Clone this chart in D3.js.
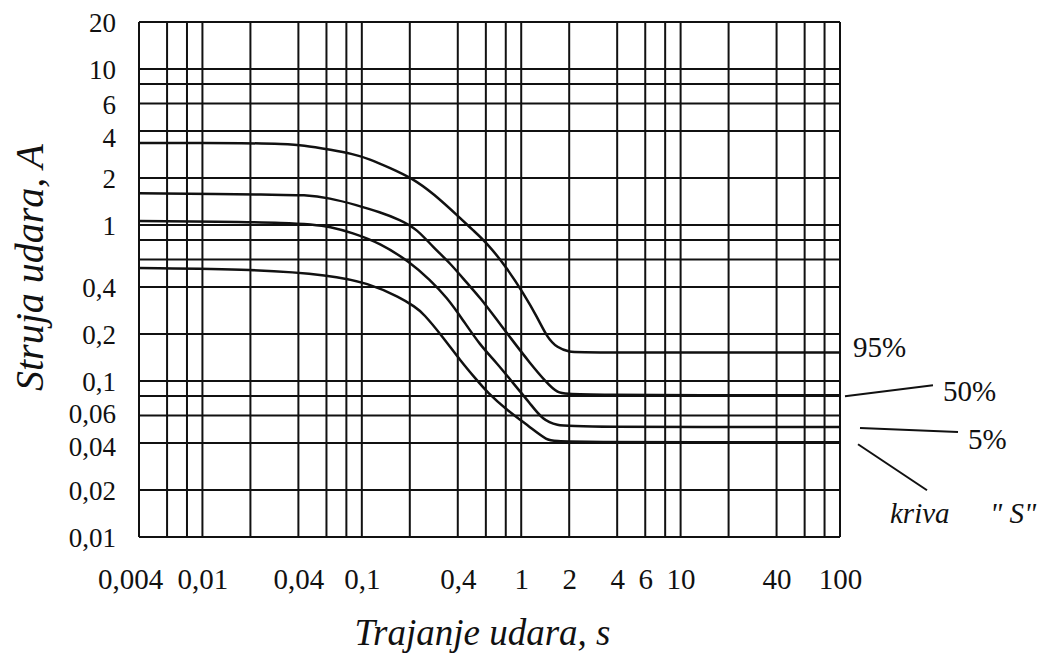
<!DOCTYPE html>
<html>
<head>
<meta charset="utf-8">
<script src="https://cdn.jsdelivr.net/npm/d3@7"></script>
<style>
  body { margin: 0; background: #fff; }
  svg text { font-family: 'Liberation Serif', 'DejaVu Serif', serif !important; }
</style>
</head>
<body>
<div id="chart"></div>
<script>
// tick labels
const xTicks = [0.004, 0.01, 0.04, 0.1, 0.4, 1, 2, 4, 6, 10, 40, 100];
const yTicks = [20, 10, 6, 4, 2, 1, 0.4, 0.2, 0.1, 0.06, 0.04, 0.02, 0.01];

// grid lines of the log paper
const xGrid = [0.004, 0.006, 0.008, 0.01, 0.02, 0.04, 0.06, 0.08, 0.1, 0.2, 0.4, 0.6, 0.8,
  1, 2, 4, 6, 8, 10, 20, 40, 60, 80, 100];
const yGrid = [20, 10, 8, 6, 4, 2, 1, 0.8, 0.6, 0.4, 0.2, 0.1, 0.08, 0.06, 0.04, 0.02, 0.01];

// curves: [time s, current A]
const curve95 = [[0.004, 3.35], [0.022, 3.35], [0.031, 3.3], [0.043, 3.25], [0.065, 3.02],
  [0.086, 2.87], [0.112, 2.65], [0.15, 2.32], [0.206, 2.0], [0.28, 1.6], [0.425, 1.08],
  [0.49, 0.94], [0.61, 0.767], [0.814, 0.53], [1.03, 0.366], [1.26, 0.257], [1.45, 0.191],
  [1.68, 0.163], [2.02, 0.153], [2.34, 0.152], [100, 0.152]];
const curve50 = [[0.004, 1.6], [0.031, 1.56], [0.043, 1.56], [0.063, 1.49], [0.093, 1.34],
  [0.13, 1.21], [0.174, 1.08], [0.222, 0.94], [0.28, 0.72], [0.358, 0.57], [0.457, 0.424],
  [0.551, 0.343], [0.705, 0.246], [0.85, 0.191], [1.135, 0.13], [1.45, 0.097], [1.68, 0.084],
  [2.02, 0.081], [100, 0.081]];
const curve5 = [[0.004, 1.06], [0.043, 1.04], [0.065, 0.97], [0.086, 0.895], [0.13, 0.767],
  [0.2, 0.579], [0.268, 0.444], [0.342, 0.343], [0.431, 0.246], [0.551, 0.17], [0.705, 0.13],
  [0.888, 0.097], [1.135, 0.072], [1.37, 0.056], [1.68, 0.052], [2.11, 0.0507], [100, 0.0507]];
const curveS = [[0.004, 0.53], [0.022, 0.52], [0.063, 0.478], [0.11, 0.424], [0.174, 0.343],
  [0.216, 0.298], [0.242, 0.273], [0.323, 0.191], [0.413, 0.136], [0.528, 0.101],
  [0.61, 0.085], [0.814, 0.065], [1.135, 0.0507], [1.45, 0.0415], [1.7, 0.0405], [100, 0.0405]];

const width = 1042;
const height = 655;
const margin = { top: 22, right: 202, bottom: 118, left: 139 };
const serif = "'Liberation Serif', 'DejaVu Serif', serif";

const svg = d3.select('#chart').append('svg')
  .attr('width', width)
  .attr('height', height)
  .attr('font-family', serif);

const x = d3.scaleLog().domain([0.004, 100]).range([margin.left, width - margin.right]);
const y = d3.scaleLog().domain([0.01, 20]).range([height - margin.bottom, margin.top]);

const fmt = v => String(v).replace('.', ',');

// grid
const grid = svg.append('g').attr('stroke', '#111').attr('stroke-width', 2);
grid.selectAll('line.v')
  .data(xGrid)
  .join('line')
  .attr('class', 'v')
  .attr('x1', d => x(d)).attr('x2', d => x(d))
  .attr('y1', y(20)).attr('y2', y(0.01));
grid.selectAll('line.h')
  .data(yGrid)
  .join('line')
  .attr('class', 'h')
  .attr('x1', x(0.004)).attr('x2', x(100))
  .attr('y1', d => y(d)).attr('y2', d => y(d));

// axes (labels only)
const xAxis = svg.append('g')
  .attr('transform', `translate(0,${y(0.01) + 40})`)
  .call(d3.axisBottom(x).tickValues(xTicks).tickFormat(fmt).tickSize(0));
xAxis.select('.domain').remove();
xAxis.attr('font-family', serif);
xAxis.selectAll('text').attr('font-size', 29).attr('dy', '0.3em');
// first label sits a little left of the frame, as on the original paper
xAxis.selectAll('.tick').filter(d => d === 0.004).select('text').attr('dx', -9);

const yAxis = svg.append('g')
  .attr('transform', `translate(${x(0.004) - 20},0)`)
  .call(d3.axisLeft(y).tickValues(yTicks).tickFormat(fmt).tickSize(0));
yAxis.select('.domain').remove();
yAxis.attr('font-family', serif);
yAxis.selectAll('text').attr('font-size', 27).attr('dy', '0.35em');
// small shifts copied from the printed labels
const yNudge = { 4: 6, 0.06: -3, 0.04: 3 };
yAxis.selectAll('.tick').select('text')
  .attr('y', d => yNudge[d] || 0);

// curves
const line = d3.line()
  .x(d => x(d[0]))
  .y(d => y(d[1]))
  .curve(d3.curveBasis);

svg.append('g')
  .attr('fill', 'none')
  .attr('stroke', '#111')
  .attr('stroke-width', 2.5)
  .selectAll('path')
  .data([curve95, curve50, curve5, curveS])
  .join('path')
  .attr('d', line);

// curve labels
const xr = x(100);
const p95 = y(curve95[curve95.length - 1][1]);
const p50 = y(curve50[curve50.length - 1][1]);
const p5 = y(curve5[curve5.length - 1][1]);
const pS = y(curveS[curveS.length - 1][1]);

const notes = svg.append('g').attr('font-size', 29);
notes.append('text').attr('x', xr + 13).attr('y', p95 + 4).text('95%');
notes.append('text').attr('x', xr + 103).attr('y', p50 + 6).text('50%');
notes.append('text').attr('x', xr + 128).attr('y', p5 + 22).text('5%');
notes.append('text').attr('x', xr + 50).attr('y', pS + 81).attr('font-style', 'italic').text('kriva');
notes.append('text').attr('x', xr + 150).attr('y', pS + 81).attr('font-style', 'italic').text('" S"');

const leaders = svg.append('g').attr('stroke', '#111').attr('stroke-width', 2);
leaders.append('line').attr('x1', xr + 5).attr('y1', p50 + 1).attr('x2', xr + 93).attr('y2', p50 - 10);
leaders.append('line').attr('x1', xr + 20).attr('y1', p5 + 1).attr('x2', xr + 118).attr('y2', p5 + 5);
leaders.append('line').attr('x1', xr + 18).attr('y1', pS + 2).attr('x2', xr + 87).attr('y2', pS + 48);

// axis titles
svg.append('text')
  .attr('x', (x(0.004) + x(100)) / 2 - 7)
  .attr('y', 645)
  .attr('text-anchor', 'middle')
  .attr('font-size', 37)
  .attr('font-style', 'italic')
  .text('Trajanje udara, s');

svg.append('text')
  .attr('transform', `translate(43,${(y(20) + y(0.01)) / 2 - 12}) rotate(-90)`)
  .attr('text-anchor', 'middle')
  .attr('font-size', 40)
  .attr('font-style', 'italic')
  .text('Struja udara, A');

svg.selectAll('text').attr('fill', '#111');
</script>
</body>
</html>
